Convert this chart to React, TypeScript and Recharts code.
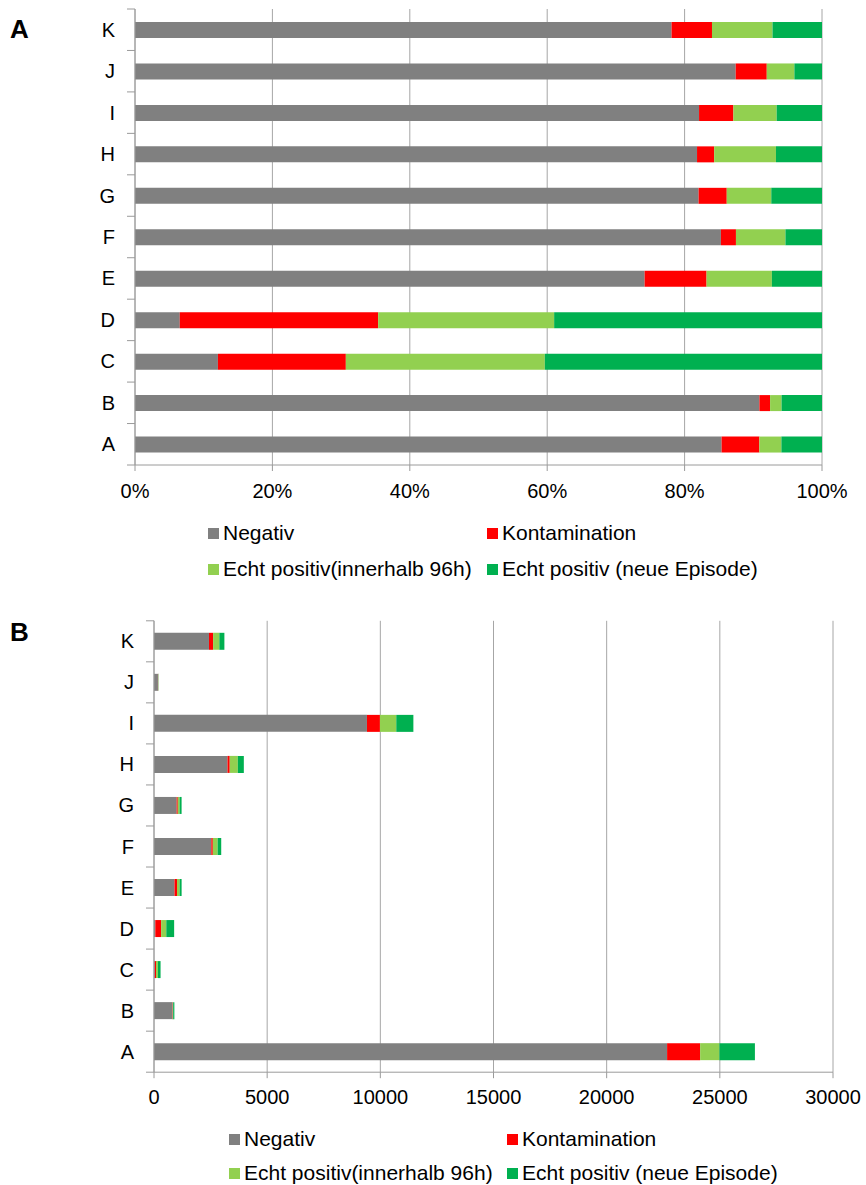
import React from 'react';
import { BarChart, Bar, XAxis, YAxis, CartesianGrid } from 'recharts';

const categories = ['K', 'J', 'I', 'H', 'G', 'F', 'E', 'D', 'C', 'B', 'A'];
const negativ = [2429, 174, 9409, 3247, 1000, 2533, 905, 58, 35, 818, 22670];
const kontamination = [183, 9, 573, 99, 50, 65, 110, 257, 54, 14, 1460];
const echtPositiv96h = [274, 8, 722, 357, 79, 214, 116, 228, 84, 15, 850];
const echtPositivNeu = [224, 8, 756, 266, 90, 158, 89, 347, 117, 53, 1570];

const percentTicks = [0, 0.2, 0.4, 0.6, 0.8, 1];
const countTicks = [0, 5000, 10000, 15000, 20000, 25000, 30000];

const seriesNames = ['Negativ', 'Kontamination', 'Echt positiv(innerhalb 96h)', 'Echt positiv (neue Episode)'];
const seriesKeys = ['negativ', 'kontamination', 'echt96', 'echtNeu'];
const seriesColors = ['#808080', '#ff0000', '#92d050', '#00b050'];

const data = categories.map((c, i) => ({
  cat: c,
  negativ: negativ[i],
  kontamination: kontamination[i],
  echt96: echtPositiv96h[i],
  echtNeu: echtPositivNeu[i],
}));

const AXIS = '#9a9a9a';
const GRID = '#a6a6a6';
const FONT = '"Liberation Sans", Arial, sans-serif';

const makeYTick = (axisX: number, band: number, lastIndex: number) => (props: any) => {
  const { y, payload, index } = props;
  return (
    <g>
      <text x={axisX - 20} y={y + 7} textAnchor="end" fontSize={20} fill="#000" fontFamily={FONT}>
        {payload.value}
      </text>
      <line x1={axisX - 8} x2={axisX} y1={y - band / 2} y2={y - band / 2} stroke={AXIS} />
      {index === lastIndex && (
        <line x1={axisX - 8} x2={axisX} y1={y + band / 2} y2={y + band / 2} stroke={AXIS} />
      )}
    </g>
  );
};

const Legend2 = ({ sq1, sq2, base1, base2 }: { sq1: number; sq2: number; base1: number; base2: number }) => {
  const items = [
    { x: sq1, b: base1 },
    { x: sq2, b: base1 },
    { x: sq1, b: base2 },
    { x: sq2, b: base2 },
  ];
  return (
    <g>
      {items.map((it, i) => (
        <g key={i}>
          <rect x={it.x} y={it.b - 12} width={11} height={11} fill={seriesColors[i]} />
          <text x={it.x + 15} y={it.b} fontSize={21} fill="#000" fontFamily={FONT}>
            {seriesNames[i]}
          </text>
        </g>
      ))}
    </g>
  );
};

export default function App() {
  const bandA = (465 - 9) / categories.length;
  const bandB = 451.4 / categories.length;
  return (
    <div style={{ position: 'absolute', left: 0, top: 0, width: 866, height: 1185, background: '#fff', fontFamily: FONT, overflow: 'hidden' }}>
      <div style={{ position: 'absolute', left: 0, top: 0 }}>
        <BarChart
          width={866}
          height={510}
          data={data}
          layout="vertical"
          stackOffset="expand"
          margin={{ top: 9, right: 44, bottom: 5, left: 75 }}
        >
          <CartesianGrid horizontal={false} stroke={GRID} />
          <XAxis
            type="number"
            domain={[0, 1]}
            ticks={percentTicks}
            tickFormatter={(v: number) => `${Math.round(v * 100)}%`}
            height={40}
            tickSize={6}
            tickMargin={13}
            stroke={AXIS}
            tick={{ fontSize: 20, fill: '#000' }}
            interval={0}
          />
          <YAxis
            type="category"
            dataKey="cat"
            width={60}
            stroke={AXIS}
            tickLine={false}
            interval={0}
            tick={makeYTick(135, bandA, categories.length - 1)}
          />
          {seriesKeys.map((k, i) => (
            <Bar key={k} dataKey={k} stackId="a" fill={seriesColors[i]} barSize={16} isAnimationActive={false} />
          ))}
        </BarChart>
      </div>
      <div style={{ position: 'absolute', left: 0, top: 600 }}>
        <BarChart
          width={866}
          height={520}
          data={data}
          layout="vertical"
          margin={{ top: 20.8, right: 33, bottom: 7.8, left: 94 }}
        >
          <CartesianGrid horizontal={false} stroke={GRID} />
          <XAxis
            type="number"
            domain={[0, 30000]}
            ticks={countTicks}
            height={40}
            tickSize={6}
            tickMargin={12}
            stroke={AXIS}
            tick={{ fontSize: 20, fill: '#000' }}
            interval={0}
          />
          <YAxis
            type="category"
            dataKey="cat"
            width={60}
            stroke={AXIS}
            tickLine={false}
            interval={0}
            tick={makeYTick(154, bandB, categories.length - 1)}
          />
          {seriesKeys.map((k, i) => (
            <Bar key={k} dataKey={k} stackId="b" fill={seriesColors[i]} barSize={17} isAnimationActive={false} />
          ))}
        </BarChart>
      </div>
      <svg width={866} height={1185} style={{ position: 'absolute', left: 0, top: 0, pointerEvents: 'none' }}>
        <text x={10} y={38} fontSize={26} fontWeight="bold" fill="#000" fontFamily={FONT}>A</text>
        <text x={10} y={641} fontSize={26} fontWeight="bold" fill="#000" fontFamily={FONT}>B</text>
        <Legend2 sq1={208} sq2={487} base1={540} base2={576} />
        <Legend2 sq1={229} sq2={507} base1={1146} base2={1180} />
      </svg>
    </div>
  );
}
